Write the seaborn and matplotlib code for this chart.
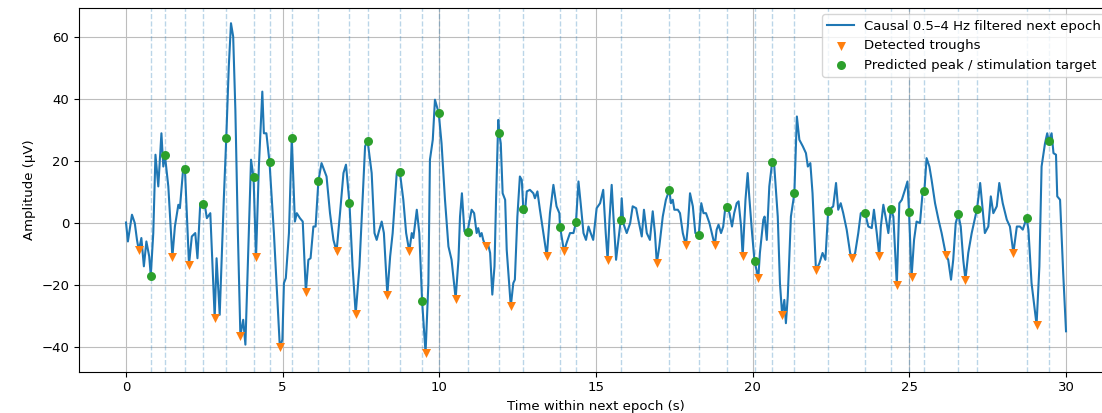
import matplotlib
matplotlib.use("Agg")
import matplotlib.pyplot as plt
import seaborn as sns
import pandas as pd

# ---- data ----
signal_t = [
    0.00, 0.06, 0.19, 0.28, 0.35, 0.41, 0.49, 0.57, 0.65, 0.74, 0.79, 0.87, 0.94, 1.03, 1.13, 1.19,
    1.24, 1.35, 1.48, 1.56, 1.67, 1.72, 1.83, 1.88, 2.01, 2.10, 2.21, 2.28, 2.37, 2.46, 2.53, 2.58,
    2.69, 2.83, 2.89, 2.99, 3.12, 3.20, 3.28, 3.35, 3.42, 3.49, 3.57, 3.65, 3.74, 3.81, 3.92, 3.99,
    4.07, 4.15, 4.24, 4.35, 4.40, 4.48, 4.58, 4.72, 4.91, 4.99, 5.04, 5.10, 5.20, 5.29, 5.39, 5.45,
    5.55, 5.64, 5.74, 5.82, 5.89, 5.98, 6.05, 6.14, 6.24, 6.30, 6.40, 6.51, 6.62, 6.72, 6.83, 6.94,
    7.02, 7.13, 7.23, 7.33, 7.45, 7.55, 7.63, 7.71, 7.84, 7.93, 8.00, 8.07, 8.16, 8.23, 8.34, 8.43,
    8.51, 8.64, 8.74, 8.85, 8.94, 9.04, 9.12, 9.17, 9.28, 9.36, 9.45, 9.56, 9.65, 9.70, 9.79, 9.86,
    9.98, 10.07, 10.18, 10.29, 10.39, 10.52, 10.61, 10.66, 10.72, 10.80, 10.90, 11.03, 11.11, 11.19,
    11.24, 11.30, 11.35, 11.40, 11.48, 11.56, 11.62, 11.69, 11.76, 11.81, 11.88, 11.91, 11.96, 12.02,
    12.10, 12.15, 12.28, 12.36, 12.41, 12.49, 12.57, 12.63, 12.68, 12.73, 12.79, 12.89, 13.00, 13.05,
    13.13, 13.21, 13.32, 13.43, 13.53, 13.64, 13.74, 13.83, 13.85, 13.98, 14.06, 14.17, 14.28, 14.36,
    14.44, 14.51, 14.60, 14.68, 14.76, 14.83, 14.91, 15.02, 15.13, 15.23, 15.31, 15.37, 15.43, 15.50,
    15.55, 15.64, 15.79, 15.82, 15.87, 15.98, 16.09, 16.17, 16.28, 16.35, 16.46, 16.53, 16.62, 16.72,
    16.81, 16.88, 16.94, 17.02, 17.13, 17.23, 17.34, 17.39, 17.45, 17.50, 17.61, 17.68, 17.77, 17.87,
    17.93, 18.00, 18.09, 18.17, 18.28, 18.32, 18.36, 18.43, 18.51, 18.62, 18.79, 18.85, 18.91, 18.99,
    19.06, 19.13, 19.18, 19.26, 19.34, 19.41, 19.49, 19.55, 19.63, 19.68, 19.77, 19.84, 19.89, 19.98,
    20.06, 20.18, 20.23, 20.34, 20.38, 20.45, 20.53, 20.62, 20.69, 20.80, 20.87, 20.94, 21.01, 21.06,
    21.12, 21.22, 21.33, 21.41, 21.49, 21.60, 21.70, 21.76, 21.84, 21.91, 22.02, 22.13, 22.23, 22.32,
    22.41, 22.57, 22.66, 22.73, 22.81, 22.89, 23.00, 23.11, 23.18, 23.27, 23.37, 23.45, 23.59, 23.69,
    23.80, 23.87, 23.96, 24.04, 24.09, 24.17, 24.24, 24.33, 24.41, 24.49, 24.60, 24.68, 24.76, 24.86,
    24.94, 24.99, 25.07, 25.15, 25.23, 25.34, 25.43, 25.48, 25.55, 25.64, 25.71, 25.82, 25.93, 26.03,
    26.17, 26.24, 26.33, 26.40, 26.48, 26.56, 26.64, 26.72, 26.79, 26.88, 26.99, 27.13, 27.16, 27.26,
    27.34, 27.41, 27.52, 27.60, 27.68, 27.79, 27.87, 27.98, 28.11, 28.21, 28.32, 28.43, 28.53, 28.62,
    28.74, 28.80, 28.90, 29.06, 29.15, 29.22, 29.33, 29.40, 29.45, 29.54, 29.60, 29.68, 29.72, 29.81,
    29.91, 30.00,
]
signal_uv = [
    0.2, -5.9, 2.7, 0.0, -5.4, -8.8, -4.8, -13.9, -5.9, -10.7, -16.9, -3.2, 22.0, 11.8, 28.9, 18.2,
    22.0, 11.8, -10.9, -1.1, 5.9, 4.8, 18.2, 17.5, -13.4, -4.3, -3.2, -11.3, 6.4, 6.2, 4.8, 1.6,
    3.2, -30.5, -11.3, -29.5, 7.5, 27.5, 50.4, 64.3, 60.0, 36.4, -3.2, -36.2, -31.1, -39.1, -3.2, 20.4,
    14.7, -10.9, 18.2, 42.3, 28.9, 28.9, 19.5, -3.2, -40.0, -37.5, -19.3, -17.7, -3.2, 27.5, 0.5, 3.2,
    1.6, 0.5, -22.3, -11.8, -11.3, -1.1, -1.1, 13.6, 19.3, 17.7, 15.0, 3.2, -5.4, -9.1, 3.2, 16.1,
    18.8, 6.6, -13.9, -29.2, -13.9, 7.5, 24.7, 26.5, 16.1, -3.2, -5.4, -2.7, 0.5, -3.2, -23.0, -10.7,
    -3.2, 16.1, 16.4, 7.5, -3.2, -9.1, -3.2, -4.8, 4.3, -3.2, -25.2, -41.8, -19.3, 20.4, 26.8, 39.7,
    35.4, 25.7, 7.5, -7.5, -11.8, -24.3, -11.8, 2.1, 9.6, -2.7, -2.7, 4.3, 3.2, -3.2,
    -1.6, -4.3, -3.2, -5.4, -7.5, -7.0, -9.6, -23.0, -13.9, 7.5, 33.2, 28.9, 25.7, 9.6,
    7.5, -8.6, -26.8, -19.3, -18.2, 2.1, 15.0, 13.9, 4.5, 3.2, 10.2, 10.7, 9.6, 8.0,
    10.2, 4.3, -3.2, -10.7, 3.2, 12.3, 5.4, 3.2, -1.1, -9.1, -6.4, -3.2, -3.2, 0.2,
    13.4, 6.4, -3.2, -5.4, -1.1, -3.2, -5.4, 4.8, 6.4, 10.7, -3.2, -11.8, 1.1, 12.3,
    3.2, -11.8, 1.1, 8.0, 0.0, -3.2, 0.0, 5.4, 4.8, 1.1, -4.3, 4.3, -3.2, -5.4,
    3.8, -3.2, -12.9, -7.5, 2.1, 7.5, 10.7, 6.4, 7.5, 4.3, 4.3, 3.2, -3.2, -7.2,
    -1.1, 9.6, 5.4, -3.2, -3.8, 1.1, 6.4, 3.2, 3.2, 0.0, -7.2, -2.1, -0.5, -3.2,
    -1.1, 5.4, 5.1, 3.2, -1.1, 3.2, 6.4, 7.0, -1.1, -10.7, 7.5, 16.1, 8.6, -3.2,
    -12.3, -17.7, -9.6, 1.1, 2.1, -5.4, 11.8, 19.5, 18.2, 2.1, -19.3, -29.5, -24.7, -32.2,
    -23.6, 2.1, 9.6, 34.3, 26.8, 24.7, 22.5, 18.2, 19.3, 9.6, -15.2, -12.9, -9.6, -11.8,
    4.0, 5.4, 12.9, 4.3, 6.4, 3.2, -2.1, -9.6, -11.3, -9.6, -3.2, 3.2, 3.2, -1.1,
    -1.6, 4.3, -3.2, -10.7, -1.1, 5.9, 2.1, -3.2, 4.6, 2.1, -20.0, 6.4, 7.5, 10.7,
    13.4, 3.5, -17.4, -5.4, 0.5, 0.0, 10.7, 10.4, 20.9, 18.2, 13.9, 6.4, 1.1, -3.2,
    -10.4, -11.8, -18.2, -11.8, 0.0, 2.9, -1.1, -11.8, -18.2, -9.6, -3.2, 3.2, 4.6, 12.9,
    4.3, -3.2, -1.1, 8.6, 3.2, 5.4, 12.9, 6.4, 1.1, -1.1, -9.6, -1.1, -1.1, -2.1,
    1.6, -2.1, -19.3, -32.7, -13.9, 18.2, 25.7, 28.9, 26.3, 28.9, 22.5, 22.0, 8.6, 7.5,
    -16.1, -34.8,
]

trough_t = [0.41, 1.48, 2.01, 2.83, 3.65, 4.15, 4.91, 5.74, 6.72, 7.33, 8.34, 9.04, 9.56, 10.52,
            11.48, 12.28, 13.43, 13.98, 15.37, 16.94, 17.87, 18.79, 19.68, 20.18, 20.94, 22.02,
            23.18, 24.04, 24.60, 25.07, 26.17, 26.79, 28.32, 29.06]
trough_uv = [-8.8, -10.9, -13.4, -30.5, -36.2, -10.9, -40.0, -22.3, -9.1, -29.2, -23.0, -9.1, -41.8,
             -24.3, -7.5, -26.8, -10.7, -9.1, -11.8, -12.9, -7.2, -7.2, -10.7, -17.7, -29.5, -15.2,
             -11.3, -10.7, -20.0, -17.4, -10.4, -18.2, -9.6, -32.7]

peak_t = [0.79, 1.24, 1.88, 2.46, 3.20, 4.07, 4.58, 5.29, 6.14, 7.13, 7.71, 8.74, 9.45, 9.98,
          10.90, 11.91, 12.68, 13.85, 14.36, 15.79, 17.34, 18.28, 19.18, 20.06, 20.62, 21.33,
          22.41, 23.59, 24.41, 24.99, 25.48, 26.56, 27.16, 28.74, 29.45]
peak_uv = [-16.9, 22.0, 17.5, 6.2, 27.5, 14.7, 19.5, 27.5, 13.6, 6.6, 26.5, 16.4, -25.2, 35.4,
           -2.7, 28.9, 4.5, -1.1, 0.2, 1.1, 10.7, -3.8, 5.1, -12.3, 19.5, 9.6,
           4.0, 3.2, 4.6, 3.5, 10.4, 2.9, 4.6, 1.6, 26.3]

x_ticks = [0, 5, 10, 15, 20, 25, 30]
y_ticks = [-40, -20, 0, 20, 40, 60]

sig_df = pd.DataFrame({"t": signal_t, "uv": signal_uv})
tr_df = pd.DataFrame({"t": trough_t, "uv": trough_uv})
pk_df = pd.DataFrame({"t": peak_t, "uv": peak_uv})

plt.rcParams["font.family"] = ["DejaVu Sans"]
plt.rcParams["font.size"] = 9.5

fig = plt.figure(figsize=(11.02, 4.13), dpi=100)
ax = fig.add_axes([0.0717, 0.100, 0.9383, 0.8814])

for t in peak_t:
    ax.axvline(t, color="#1f77b4", linestyle="--", linewidth=1.0, alpha=0.3, zorder=1)

sns.lineplot(data=sig_df, x="t", y="uv", ax=ax, color="#1f77b4", linewidth=1.5,
             sort=False, estimator=None, label="Causal 0.5\u20134 Hz filtered next epoch", zorder=3)
sns.scatterplot(data=tr_df, x="t", y="uv", ax=ax, marker="v", color="#ff7f0e", s=42,
                linewidth=0, label="Detected troughs", zorder=4)
sns.scatterplot(data=pk_df, x="t", y="uv", ax=ax, marker="o", color="#2ca02c", s=42,
                linewidth=0, label="Predicted peak / stimulation target", zorder=5)

ax.set_xlim(-1.5, 31.5)
ax.set_ylim(-47.8, 69.3)
ax.set_xticks(x_ticks)
ax.set_yticks(y_ticks)
ax.grid(True, color="#bdbdbd", linewidth=0.8)
ax.set_axisbelow(True)
ax.set_xlabel("Time within next epoch (s)", fontsize=9.5)
ax.set_ylabel("Amplitude (\u00b5V)", fontsize=9.5)
ax.tick_params(labelsize=9.5)
ax.legend(loc="upper right", fontsize=9.5)

fig.savefig("out.png", dpi=100)
